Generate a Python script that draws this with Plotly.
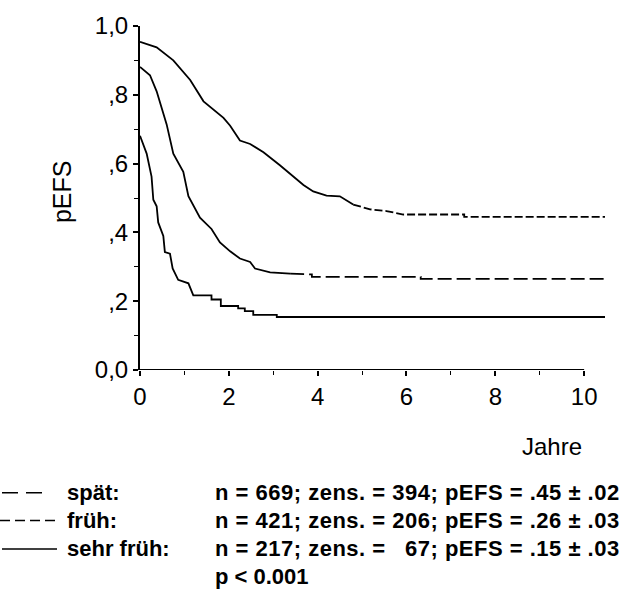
import plotly.graph_objects as go

# Kaplan-Meier estimates of event-free survival (time in years, pEFS)
spaet_t = [0, 0.375, 0.75, 1.13, 1.43, 1.88, 2.03, 2.25, 2.48, 2.78, 3.15, 3.68,
           3.9, 4.2, 4.5, 4.8, 5.18, 5.55, 5.93, 6.76, 7.3, 7.3, 10.47]
spaet_p = [0.954, 0.938, 0.90, 0.843, 0.781, 0.733, 0.71, 0.667, 0.657, 0.633, 0.595, 0.538,
           0.519, 0.507, 0.505, 0.481, 0.467, 0.462, 0.452, 0.452, 0.452, 0.445, 0.445]

frueh_t = [0, 0.225, 0.375, 0.6, 0.75, 0.975, 1.09, 1.35, 1.61, 1.8, 2.03, 2.25,
           2.48, 2.59, 2.93, 3.38, 3.87, 3.87, 6.32, 6.32, 10.47]
frueh_p = [0.881, 0.857, 0.81, 0.714, 0.629, 0.576, 0.505, 0.443, 0.41, 0.371, 0.345, 0.324,
           0.314, 0.295, 0.284, 0.28, 0.278, 0.271, 0.271, 0.265, 0.265]

sehr_t = [0, 0.15, 0.26, 0.3, 0.375, 0.41, 0.525, 0.56, 0.675, 0.735, 0.86, 1.09, 1.2,
          1.61, 1.61, 1.82, 1.82, 2.21, 2.21, 2.36, 2.36, 2.55, 2.55, 3.08, 3.08, 10.47]
sehr_p = [0.681, 0.629, 0.562, 0.495, 0.476, 0.429, 0.39, 0.343, 0.338, 0.295, 0.262, 0.252, 0.217,
          0.217, 0.205, 0.205, 0.186, 0.186, 0.179, 0.179, 0.171, 0.171, 0.16, 0.16, 0.154, 0.154]

groups = ["spät:", "früh:", "sehr früh:"]
n_pat = ["669", "421", "217"]
n_zens = ["394", "206", "67"]
pefs_end = [".45", ".26", ".15"]
pefs_se = [".02", ".03", ".03"]
p_text = "p < 0.001"

x_tickvals = [0, 2, 4, 6, 8, 10]
y_tickvals = [0, 0.2, 0.4, 0.6, 0.8, 1.0]
y_ticktext = ["0,0", ",2", ",4", ",6", ",8", "1,0"]

# ---- layout geometry (pixels) ----
W, H = 622, 616
ML, MR, MT, MB = 140, 17, 20, 246
PW, PH = W - ML - MR, H - MT - MB
FONT = "Liberation Sans, Arial, sans-serif"


def fx(px):
    return (px - ML) / PW


def fy(py):
    return (H - MB - py) / PH


series = [
    (spaet_t, spaet_p, 4.8, "8px,3px"),
    (frueh_t, frueh_p, 3.38, "14px,5px"),
    (sehr_t, sehr_p, None, None),
]

fig = go.Figure()
for t, p, split, dash in series:
    if split is None:
        fig.add_trace(go.Scatter(x=t, y=p, mode="lines",
                                 line=dict(color="black", width=1.8)))
        continue
    k = t.index(split)
    fig.add_trace(go.Scatter(x=t[:k + 1], y=p[:k + 1], mode="lines",
                             line=dict(color="black", width=1.8)))
    fig.add_trace(go.Scatter(x=t[k:], y=p[k:], mode="lines",
                             line=dict(color="black", width=1.8, dash=dash)))

# x axis line stops at 10 years
fig.add_shape(type="line", xref="x", yref="y", x0=0, x1=10, y0=0, y1=0,
              line=dict(color="black", width=2))

annotations = [
    dict(text="pEFS", x=fx(62), y=fy(189), textangle=-90,
         font=dict(size=25)),
    dict(text="Jahre", x=fx(552), y=fy(448), font=dict(size=24)),
]

# legend block: group label + one statistics line per group
FIG_SPACE = "\u2007"
zens_w = max(len(z) for z in n_zens)
row_y = [495, 523, 552]
for i, g in enumerate(groups):
    y = fy(row_y[i])
    zens = FIG_SPACE * (zens_w - len(n_zens[i])) + n_zens[i]
    stats = (f"n = {n_pat[i]}; zens. = {zens}; "
             f"pEFS = {pefs_end[i]} ± {pefs_se[i]}")
    annotations += [
        dict(text=g, x=fx(65), y=y, xanchor="left"),
        dict(text=f'<span style="letter-spacing:0.5px">{stats}</span>',
             x=fx(213), y=y, xanchor="left"),
    ]
annotations.append(dict(text=p_text, x=fx(213), y=fy(580), xanchor="left"))

for a in annotations:
    a.setdefault("xref", "paper")
    a.setdefault("yref", "paper")
    a.setdefault("showarrow", False)
    a.setdefault("xanchor", "center")
    a.setdefault("yanchor", "middle")
    a.setdefault("font", dict(size=22, weight="bold"))
    a["font"] = dict(family=FONT, color="black", **a["font"])

# legend line samples
legend_lines = [
    (2, 42, row_y[0], "16px,8px"),
    (0, 57, row_y[1], "10px,5px"),
    (2, 57, row_y[2], "solid"),
]
for x0, x1, y, dash in legend_lines:
    fig.add_shape(type="line", xref="paper", yref="paper",
                  x0=fx(x0), x1=fx(x1), y0=fy(y), y1=fy(y),
                  line=dict(color="black", width=1.5, dash=dash))

fig.update_layout(
    width=W, height=H,
    margin=dict(l=ML, r=MR, t=MT, b=MB),
    paper_bgcolor="white", plot_bgcolor="white",
    showlegend=False,
    font=dict(family=FONT, color="black"),
    annotations=annotations,
    xaxis=dict(range=[0, 10.47], showline=False, showgrid=False, zeroline=False,
               tickvals=x_tickvals, ticks="outside", ticklen=5, tickwidth=2,
               tickcolor="black", tickfont=dict(size=24, family=FONT),
               minor=dict(ticks="outside", dtick=1, tick0=0, ticklen=4,
                          tickwidth=1, tickcolor="black")),
    yaxis=dict(range=[0, 1], showline=True, linecolor="black", linewidth=2,
               showgrid=False, zeroline=False,
               tickvals=y_tickvals, ticktext=y_ticktext, ticks="outside",
               ticklen=5, tickwidth=2, tickcolor="black",
               tickfont=dict(size=24, family=FONT),
               minor=dict(ticks="outside", dtick=0.1, tick0=0, ticklen=4,
                          tickwidth=1, tickcolor="black")),
)

fig.write_html("out.html")
